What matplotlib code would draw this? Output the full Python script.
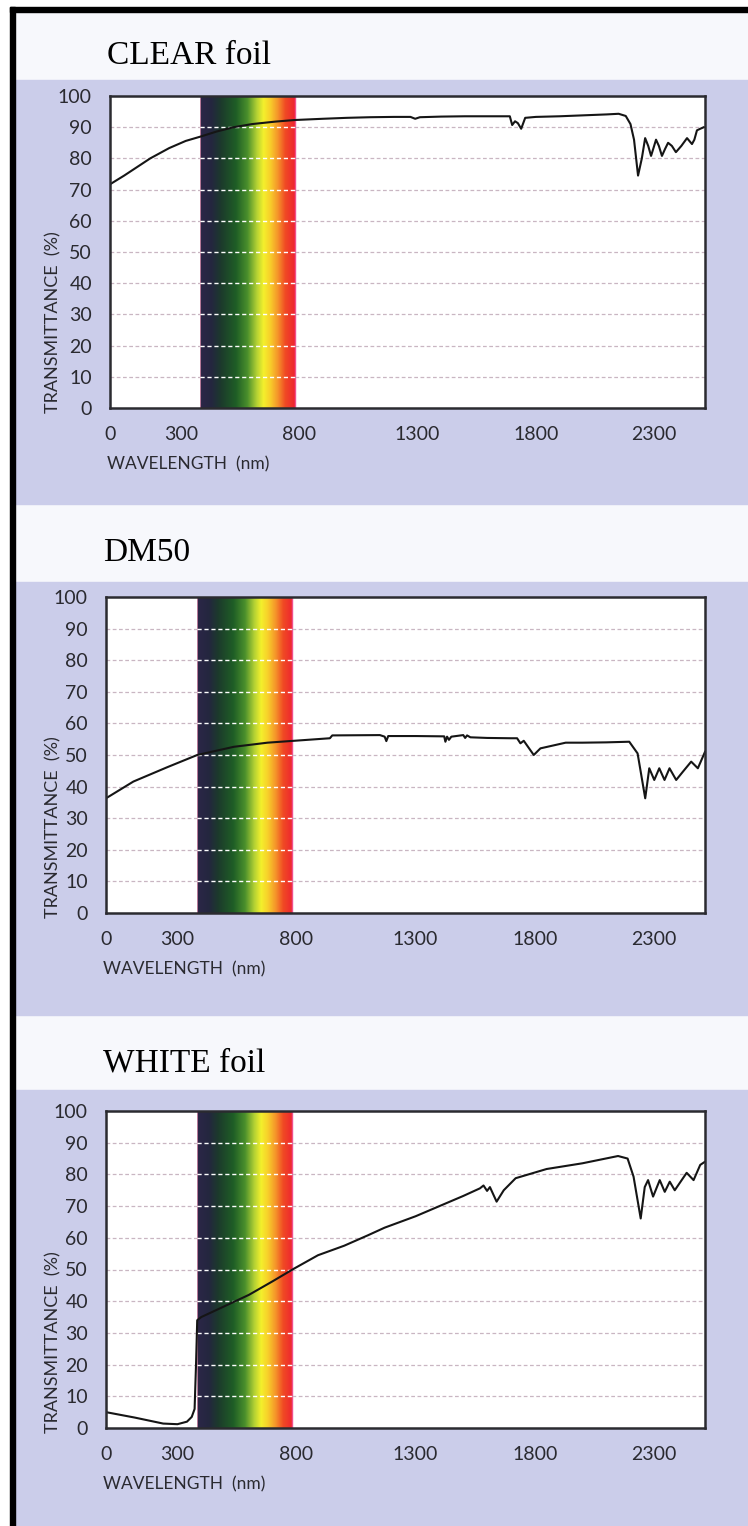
import numpy as np
import matplotlib
matplotlib.use("Agg")
import matplotlib.pyplot as plt
from matplotlib.patches import Rectangle
from matplotlib.colors import LinearSegmentedColormap

# -------------------------------
# Data
# -------------------------------
titles = ["CLEAR foil", "DM50", "WHITE foil"]
x_ticks = [0, 300, 800, 1300, 1800, 2300]
y_ticks = [0, 10, 20, 30, 40, 50, 60, 70, 80, 90, 100]

clear_nm = [0, 60, 120, 170, 250, 320, 383, 450, 523, 600, 700, 780, 900, 1000,
            1100, 1200, 1270, 1290, 1310, 1400, 1500, 1600, 1690, 1700, 1712,
            1724, 1738, 1755, 1800, 1900, 2000, 2100, 2150, 2180, 2200, 2215,
            2232, 2248, 2262, 2275, 2287, 2298, 2308, 2320, 2333, 2346, 2359,
            2375, 2392, 2415, 2439, 2450, 2460, 2470, 2481, 2495, 2510]
clear_t = [71.7, 74.5, 77.5, 80.0, 83.3, 85.6, 87.0, 88.6, 90.0, 91.0, 91.8,
           92.3, 92.7, 93.0, 93.2, 93.3, 93.3, 92.7, 93.2, 93.4, 93.5, 93.5,
           93.5, 90.7, 91.9, 91.3, 89.5, 93.0, 93.3, 93.5, 93.8, 94.1, 94.3,
           93.6, 91.0, 86.0, 74.5, 80.0, 86.5, 84.0, 80.8, 83.5, 86.0, 84.0,
           80.8, 83.0, 85.0, 84.0, 82.0, 84.0, 86.5, 85.5, 84.6, 86.0, 89.0,
           89.5, 90.0]

dm50_nm = [0, 115, 256, 383, 537, 678, 790, 940, 950, 1150, 1170, 1177, 1185,
           1300, 1420, 1425, 1432, 1440, 1450, 1500, 1508, 1516, 1530, 1600,
           1700, 1726, 1740, 1754, 1796, 1824, 1930, 2000, 2100, 2197, 2232,
           2264, 2281, 2302, 2323, 2345, 2366, 2394, 2422, 2457, 2485, 2515]
dm50_t = [36.3, 41.6, 46.1, 50.0, 52.6, 53.9, 54.5, 55.3, 56.2, 56.3, 55.8,
          54.4, 56.0, 56.0, 55.9, 54.2, 55.8, 54.8, 55.8, 56.3, 55.4, 56.2,
          55.6, 55.4, 55.3, 55.3, 53.7, 54.5, 50.0, 52.1, 53.9, 53.9, 54.0,
          54.2, 50.5, 36.3, 45.8, 42.1, 45.8, 42.1, 45.8, 42.1, 44.7, 47.9,
          45.8, 51.0]

white_nm = [0, 120, 240, 300, 340, 360, 372, 378, 383, 400, 500, 600, 700,
            790, 890, 1000, 1100, 1170, 1300, 1400, 1500, 1570, 1585, 1600,
            1612, 1640, 1670, 1720, 1850, 2000, 2150, 2190, 2215, 2245, 2262,
            2276, 2297, 2325, 2346, 2367, 2388, 2438, 2467, 2495, 2515]
white_t = [5.0, 3.3, 1.4, 1.2, 2.0, 3.5, 6.0, 20.0, 34.0, 35.0, 38.5, 42.0,
           46.3, 50.3, 54.5, 57.5, 60.8, 63.2, 66.8, 70.0, 73.2, 75.6, 76.5,
           74.8, 76.0, 71.4, 75.0, 78.8, 81.7, 83.5, 85.8, 85.0, 79.3, 66.1,
           76.0, 78.2, 73.0, 78.2, 74.5, 77.7, 75.0, 80.5, 78.2, 83.0, 84.0]

series = [(clear_nm, clear_t), (dm50_nm, dm50_t), (white_nm, white_t)]

# visible band and its colours (position along the band, colour)
band_lo, band_hi = 380, 780
band_stops = [(0.00, "#2c2748"), (0.12, "#24263f"), (0.22, "#1c3a2c"),
              (0.38, "#1f5e26"), (0.50, "#4a8f2c"), (0.60, "#b5d234"),
              (0.67, "#f4f02c"), (0.74, "#f8cf2a"), (0.82, "#f5952a"),
              (0.90, "#f04a24"), (1.00, "#ee2430")]

# -------------------------------
# Layout (pixels)
# -------------------------------
W, H = 748, 1526
LAVENDER = "#cbcdea"
BAND_WHITE = "#f7f8fc"

def frac(l, t, r, b):
    return [l / W, 1 - b / H, (r - l) / W, (b - t) / H]

fig = plt.figure(figsize=(W / 100, H / 100), dpi=100)
fig.patch.set_facecolor("white")

# page frame
fig.add_artist(Rectangle((15 / W, 0), 1, 1 - 12 / H, transform=fig.transFigure,
                         color=BAND_WHITE, zorder=-5))
for top, bot in [(80, 504), (582, 1015), (1090, 1526)]:
    fig.add_artist(Rectangle((15 / W, 1 - bot / H), 1, (bot - top) / H,
                             transform=fig.transFigure, color=LAVENDER, zorder=-4))
fig.add_artist(Rectangle((10 / W, 0), 5 / W, 1 - 7 / H, transform=fig.transFigure,
                         color="black", zorder=-3))
fig.add_artist(Rectangle((10 / W, 1 - 12 / H), 1, 5 / H, transform=fig.transFigure,
                         color="black", zorder=-3))

panels = [
    dict(box=(110, 96, 705, 408), title_y=64),
    dict(box=(106, 597, 705, 913), title_y=561),
    dict(box=(106, 1111, 705, 1428), title_y=1072),
]

cmap = LinearSegmentedColormap.from_list("visible", band_stops)
gradient = np.linspace(0, 1, 256).reshape(1, -1)

tick_font = dict(family="Lato", size=14, color="#2a2a30")

for i, p in enumerate(panels):
    l, t, r, b = p["box"]
    ax = fig.add_axes(frac(l, t, r, b))
    ax.set_facecolor("white")
    ax.set_xlim(0, 2515)
    ax.set_ylim(0, 100)

    ax.imshow(gradient, cmap=cmap, aspect="auto", extent=(band_lo, band_hi, 0, 100),
              zorder=1)
    ax.axvline(band_hi, color="#f0508c", lw=1.0, zorder=1.5)
    ax.axvline(band_lo, color="#d08aa8", lw=0.6, zorder=1.5)

    # dashed grid: pinkish on white, white across the band
    levels = y_ticks[1:-1]
    ax.hlines(levels, 0, band_lo, colors="#c9b6c2", linestyles=(0, (3, 2)), lw=0.9, zorder=2)
    ax.hlines(levels, band_hi, 2515, colors="#c9b6c2", linestyles=(0, (3, 2)), lw=0.9, zorder=2)
    ax.hlines(levels, band_lo, band_hi, colors="white", linestyles=(0, (3, 2)), lw=1.0, zorder=2)

    nm, tr = series[i]
    ax.plot(nm, tr, color="#151515", lw=1.5, zorder=3)

    for s in ax.spines.values():
        s.set_color("#2b2b30")
        s.set_linewidth(1.8)
        s.set_zorder(4)

    ax.set_xticks(x_ticks)
    ax.set_yticks(y_ticks)
    ax.set_xticklabels([str(v) for v in x_ticks], fontdict=tick_font)
    ax.set_yticklabels([str(v) for v in y_ticks], fontdict=tick_font)
    ax.tick_params(length=0)
    ax.tick_params(axis="y", pad=13)
    ax.tick_params(axis="x", pad=13)

    # titles and axis labels
    fig.text(l / W - 3 / W, 1 - p["title_y"] / H, titles[i], family="Liberation Serif",
             fontsize=24, color="black", ha="left", va="baseline")
    fig.text(l / W - 3 / W, 1 - (b + 61) / H, "WAVELENGTH  (nm)", family="Lato",
             fontsize=12.5, color="#2a2a30", ha="left", va="baseline")
    fig.text(53 / W, 1 - (b + 5) / H, "TRANSMITTANCE  (%)", family="Lato",
             fontsize=13, color="#2a2a30", rotation=90, ha="center", va="bottom")

plt.savefig("out.png", dpi=100)
